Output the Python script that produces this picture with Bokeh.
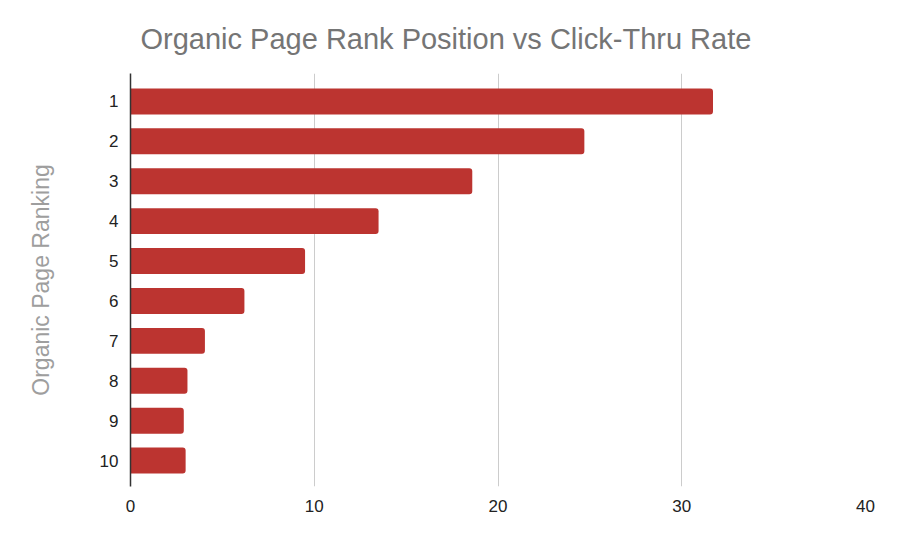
from bokeh.plotting import figure
from bokeh.models import Range1d, FixedTicker, ColumnDataSource
from bokeh.embed import file_html
from bokeh.resources import INLINE

ranks = [1, 2, 3, 4, 5, 6, 7, 8, 9, 10]
ctr = [31.7, 24.7, 18.6, 13.5, 9.5, 6.2, 4.05, 3.1, 2.9, 3.0]
x_ticks = [0, 10, 20, 30, 40]

source = ColumnDataSource(dict(rank=ranks, ctr=ctr))

p = figure(width=880, height=526, output_backend="svg", toolbar_location=None,
           x_range=Range1d(0, 40), y_range=Range1d(10.65, 0.3),
           min_border_left=130, min_border_right=15, min_border_top=73,
           min_border_bottom=40)
p.outline_line_color = None

p.title.text = "Organic Page Rank Position vs Click-Thru Rate"
p.title.text_font = "Liberation Sans"
p.title.text_font_size = "29px"
p.title.text_font_style = "normal"
p.title.text_color = "#757575"
p.title.text_line_height = 1.0
p.title.align = "left"
p.title.offset = 10
p.title.standoff = 38

p.hbar(y="rank", right="ctr", left=0, height=0.65, source=source,
       fill_color="#bc3430", line_color=None, border_radius=(0, 3, 3, 0))

p.xaxis.ticker = FixedTicker(ticks=x_ticks)
p.yaxis.ticker = FixedTicker(ticks=ranks)
p.xgrid.ticker = FixedTicker(ticks=x_ticks[1:])
p.xgrid.grid_line_color = "#cccccc"
p.xgrid.grid_line_width = 1
p.ygrid.grid_line_color = None

for ax in (p.xaxis, p.yaxis):
    ax.major_tick_line_color = None
    ax.minor_tick_line_color = None
    ax.major_label_text_font = "Liberation Sans"
    ax.major_label_text_font_size = "17px"
    ax.major_label_text_color = "#222222"

p.xaxis.major_label_standoff = 7
p.yaxis.major_label_standoff = 6

p.xaxis.axis_line_color = None
p.yaxis.axis_line_color = "#333333"
p.yaxis.axis_line_width = 1.5

p.yaxis.axis_label = "Organic Page Ranking"
p.yaxis.axis_label_text_font = "Liberation Sans"
p.yaxis.axis_label_text_font_size = "23px"
p.yaxis.axis_label_text_font_style = "normal"
p.yaxis.axis_label_text_color = "#9e9e9e"
p.yaxis.axis_label_standoff = 43

open("out.html", "w").write(file_html(p, INLINE))
